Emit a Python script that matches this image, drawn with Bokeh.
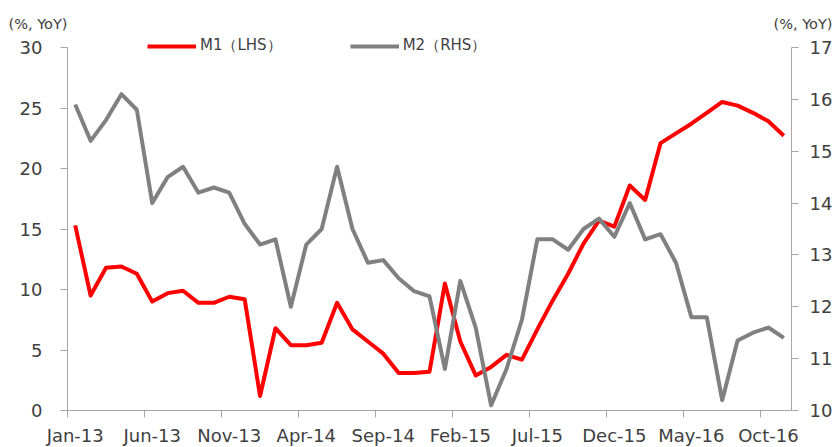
from bokeh.plotting import figure
from bokeh.models import Range1d, LinearAxis, FixedTicker, Legend, LegendItem, Label
from bokeh.embed import file_html
from bokeh.resources import INLINE

# ---- data -------------------------------------------------------------
months = ["Jan-13", "Feb-13", "Mar-13", "Apr-13", "May-13", "Jun-13", "Jul-13", "Aug-13",
          "Sep-13", "Oct-13", "Nov-13", "Dec-13", "Jan-14", "Feb-14", "Mar-14", "Apr-14",
          "May-14", "Jun-14", "Jul-14", "Aug-14", "Sep-14", "Oct-14", "Nov-14", "Dec-14",
          "Jan-15", "Feb-15", "Mar-15", "Apr-15", "May-15", "Jun-15", "Jul-15", "Aug-15",
          "Sep-15", "Oct-15", "Nov-15", "Dec-15", "Jan-16", "Feb-16", "Mar-16", "Apr-16",
          "May-16", "Jun-16", "Jul-16", "Aug-16", "Sep-16", "Oct-16", "Nov-16"]

m1 = [15.3, 9.5, 11.8, 11.9, 11.3, 9.0, 9.7, 9.9, 8.9, 8.9, 9.4, 9.2,
      1.2, 6.8, 5.4, 5.4, 5.6, 8.9, 6.7, 5.7, 4.7, 3.1, 3.1, 3.2,
      10.5, 5.7, 2.9, 3.6, 4.6, 4.2, 6.7, 9.1, 11.3, 13.8, 15.7, 15.2,
      18.6, 17.4, 22.1, 22.9, 23.7, 24.6, 25.5, 25.2, 24.6, 23.9, 22.7]

m2 = [15.9, 15.2, 15.6, 16.1, 15.8, 14.0, 14.5, 14.7, 14.2, 14.3, 14.2, 13.6,
      13.2, 13.3, 12.0, 13.2, 13.5, 14.7, 13.5, 12.85, 12.9, 12.55, 12.3, 12.2,
      10.8, 12.5, 11.6, 10.1, 10.8, 11.75, 13.3, 13.3, 13.1, 13.5, 13.7, 13.35,
      14.0, 13.3, 13.4, 12.85, 11.8, 11.8, 10.2, 11.35, 11.5, 11.6, 11.4]

tick_labels = ["Jan-13", "Jun-13", "Nov-13", "Apr-14", "Sep-14",
               "Feb-15", "Jul-15", "Dec-15", "May-16", "Oct-16"]
left_ticks = [0, 5, 10, 15, 20, 25, 30]
right_ticks = [10, 11, 12, 13, 14, 15, 16, 17]
series_names = ["M1（LHS）", "M2（RHS）"]
unit_label = "(%, YoY)"

# ---- layout (pixels) ----------------------------------------------------
W, H = 835, 447
PL, PR, PT, PB = 67, 791, 47, 410      # plot-area edges on the page
FONT = "DejaVu Sans"
TXT = "#404040"
AX = "#a6a6a6"

n = len(months)
x = list(range(n))
tick_idx = [months.index(t) for t in tick_labels]

x_lo, x_hi = -0.5, n - 0.5
sx = (PR - PL) / (x_hi - x_lo)
y_lo, y_hi = left_ticks[0], left_ticks[-1]
sy = (PB - PT) / (y_hi - y_lo)
r_lo, r_hi = right_ticks[0], right_ticks[-1]
sr = (PB - PT) / (r_hi - r_lo)

p = figure(width=W, height=H, output_backend="svg", toolbar_location=None,
           x_range=Range1d(x_lo - PL / sx, x_hi + (W - PR) / sx),
           y_range=Range1d(y_lo - (H - PB) / sy, y_hi + PT / sy),
           min_border=0)
p.extra_y_ranges = {"rhs": Range1d(r_lo - (H - PB) / sr, r_hi + PT / sr)}
p.outline_line_color = None
p.grid.visible = False
p.background_fill_color = "white"
p.border_fill_color = "white"

xa = p.xaxis[0]
xa.fixed_location = y_lo
xa.bounds = (x_lo, x_hi)
xa.ticker = FixedTicker(ticks=tick_idx, minor_ticks=[i - 0.5 for i in tick_idx])
xa.major_label_overrides = {i: lbl for i, lbl in zip(tick_idx, tick_labels)}
xa.major_tick_line_color = None
xa.major_tick_out = 7
xa.major_tick_in = 0
xa.minor_tick_out = 7
xa.minor_tick_in = 0
xa.minor_tick_line_color = AX
xa.axis_line_color = AX
xa.major_label_text_font = FONT
xa.major_label_text_font_size = "18px"
xa.major_label_text_color = TXT
xa.major_label_standoff = 7

ya = p.yaxis[0]
ya.fixed_location = x_lo
ya.bounds = (y_lo, y_hi)
ya.ticker = FixedTicker(ticks=left_ticks, minor_ticks=[])
ya.major_tick_out = 7
ya.major_tick_in = 0
ya.major_tick_line_color = AX
ya.axis_line_color = AX
ya.major_label_text_font = FONT
ya.major_label_text_font_size = "18px"
ya.major_label_text_color = TXT
ya.major_label_standoff = 18

ra = LinearAxis(y_range_name="rhs", fixed_location=x_hi, bounds=(r_lo, r_hi),
                ticker=FixedTicker(ticks=right_ticks, minor_ticks=[]))
ra.major_tick_out = 7
ra.major_tick_in = 0
ra.major_tick_line_color = AX
ra.minor_tick_line_color = None
ra.axis_line_color = AX
ra.major_label_text_font = FONT
ra.major_label_text_font_size = "18px"
ra.major_label_text_color = TXT
ra.major_label_standoff = 11
p.add_layout(ra, "right")

r1 = p.line(x, m1, line_color="#ff0000", line_width=4, line_join="round")
r2 = p.line(x, m2, y_range_name="rhs", line_color="#808080", line_width=4, line_join="round")

legend = Legend(items=[LegendItem(label=series_names[0], renderers=[r1]),
                       LegendItem(label=series_names[1], renderers=[r2])],
                orientation="horizontal", location=(147, 392),
                glyph_width=49, glyph_height=18, label_height=18, label_standoff=4,
                spacing=68, padding=0, margin=0,
                border_line_color=None, background_fill_alpha=0,
                label_text_font=FONT, label_text_font_size="15px", label_text_color=TXT)
p.add_layout(legend)

p.add_layout(Label(x=x_lo, y=y_hi, x_offset=-59, y_offset=23.5, text=unit_label,
                   text_align="left", text_baseline="middle", text_font=FONT,
                   text_font_size="14.5px", text_color=TXT))
p.add_layout(Label(x=x_hi, y=y_hi, x_offset=41, y_offset=23.5, text=unit_label,
                   text_align="right", text_baseline="middle", text_font=FONT,
                   text_font_size="14.5px", text_color=TXT))

open("out.html", "w").write(file_html(p, INLINE))
